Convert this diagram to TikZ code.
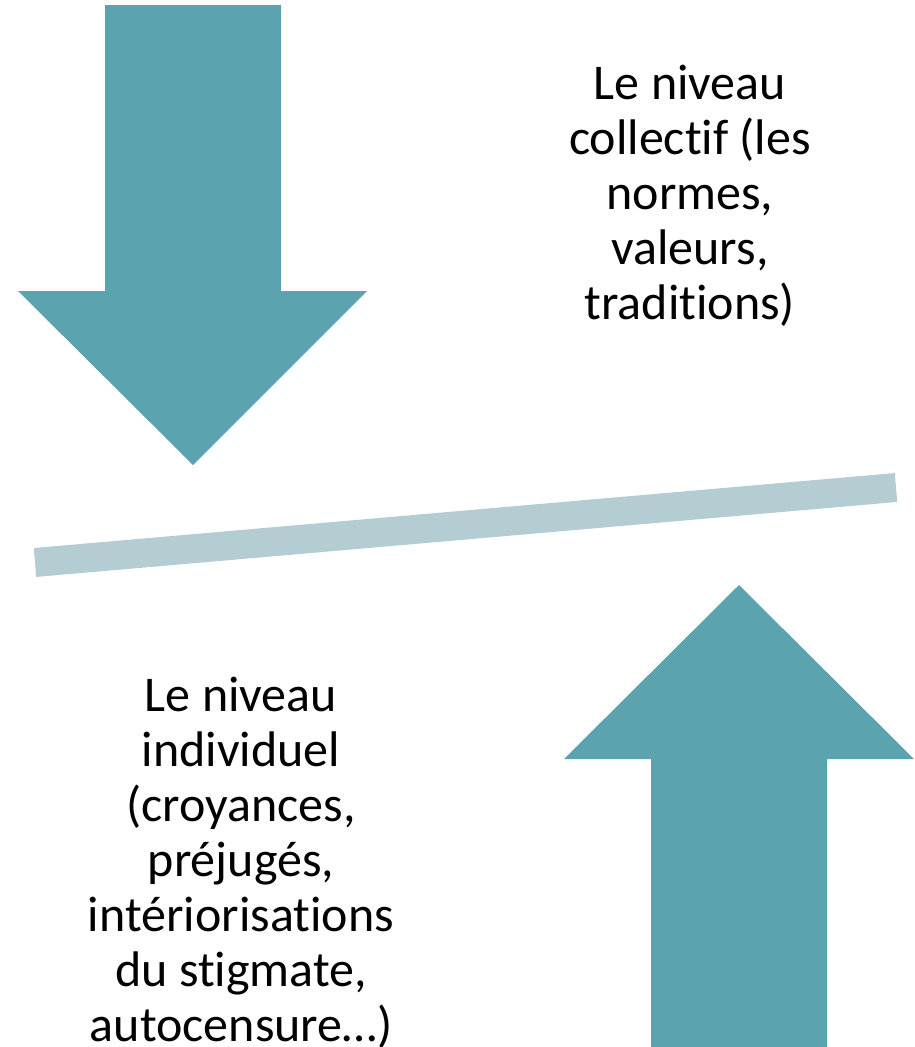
\documentclass[tikz,border=0pt]{standalone}
\usepackage{fontspec}
\setmainfont{Carlito}[Ligatures=NoCommon]
\definecolor{arrowteal}{RGB}{91,163,174}
\definecolor{barblue}{RGB}{180,205,211}
\tikzset{level text/.style={align=center, anchor=north, inner sep=0pt, font=\fontsize{50}{55}\selectfont}}

\begin{document}
\begin{tikzpicture}[x=1pt,y=-1pt]
\useasboundingbox (0,0) rectangle (915,1047);
%
% big arrows
\fill[arrowteal] (105,5) -- (281,5) -- (281,291) -- (367,291) -- (193,465) -- (18,291) -- (105,291) -- cycle;
\fill[arrowteal] (651,1047) -- (827,1047) -- (827,759) -- (914,759) -- (739,585) -- (564,759) -- (651,759) -- cycle;
%
% slanted bar
\coordinate (bar left) at (35,562.5);
\coordinate (bar right) at (896,487.5);
\draw[barblue, line width=29pt] (bar left) -- (bar right);
%
\node[level text] at (690,65) (collectif) {Le niveau\\collectif (les\\normes,\\valeurs,\\traditions)};
\node[level text] at (241,677) (individuel) {Le niveau\\individuel\\(croyances,\\préjugés,\\intériorisations\\du stigmate,\\autocensure…)};
%
\end{tikzpicture}
\end{document}
